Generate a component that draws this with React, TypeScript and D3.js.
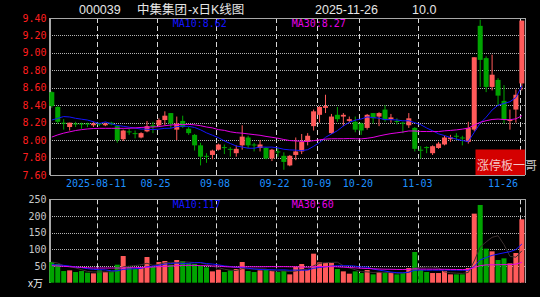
import React from "react";
import * as d3 from "d3";

// ---- data ----
const tickIndex = [8, 18, 28, 38, 45, 52, 62, 79];
const tickLabels = ["2025-08-11", "08-25", "09-08", "09-22", "10-09", "10-20", "11-03", "11-26"];

const opens = [8.55, 8.38, 8.2, 8.15, 8.19, 8.19, 8.19, 8.17, 8.19, 8.17,
  8.2, 8.16, 8.01, 8.1, 8.08, 8.03, 8.1, 8.17, 8.17, 8.23,
  8.31, 8.12, 8.22, 8.13, 8.06, 7.94, 7.82, 7.83, 7.89, 7.92,
  7.9, 7.85, 7.94, 8.03, 7.95, 7.91, 7.91, 7.79, 7.87, 7.82,
  7.71, 7.83, 7.87, 7.98, 8.16, 8.29, 8.37, 8.08, 8.29, 8.27,
  8.22, 8.21, 8.19, 8.14, 8.31, 8.27, 8.35, 8.24, 8.22, 8.2,
  8.17, 8.14, 7.89, 7.92, 7.85, 7.91, 7.95, 8.01, 8.05, 8.03,
  7.98, 8.12, 9.31, 8.94, 8.61, 8.69, 8.45, 8.22, 8.35, 8.65];
const highs = [8.56, 8.39, 8.24, 8.2, 8.21, 8.2, 8.2, 8.21, 8.2, 8.2,
  8.21, 8.17, 8.12, 8.13, 8.11, 8.09, 8.22, 8.21, 8.25, 8.33,
  8.31, 8.27, 8.28, 8.15, 8.07, 7.97, 7.85, 7.89, 7.96, 7.95,
  7.92, 7.94, 8.17, 8.05, 7.97, 8.0, 7.92, 7.9, 7.91, 7.86,
  7.83, 8.03, 8.07, 8.08, 8.35, 8.39, 8.52, 8.3, 8.38, 8.31,
  8.27, 8.27, 8.2, 8.3, 8.31, 8.32, 8.4, 8.3, 8.25, 8.21,
  8.31, 8.15, 7.93, 7.93, 7.94, 7.98, 8.05, 8.06, 8.08, 8.05,
  8.21, 8.95, 9.38, 8.96, 8.98, 8.71, 8.63, 8.35, 8.58, 9.37];
const lows = [8.37, 8.19, 8.12, 8.11, 8.15, 8.13, 8.15, 8.15, 8.16, 8.16,
  8.17, 7.97, 7.99, 8.06, 8.02, 8.02, 8.09, 8.08, 8.16, 8.17,
  8.14, 8.0, 8.14, 8.06, 7.88, 7.71, 7.74, 7.78, 7.88, 7.84,
  7.81, 7.81, 7.89, 7.91, 7.87, 7.87, 7.78, 7.76, 7.81, 7.66,
  7.7, 7.77, 7.84, 7.94, 8.11, 8.2, 8.31, 8.07, 8.21, 8.16,
  8.2, 8.09, 8.06, 8.12, 8.19, 8.16, 8.21, 8.2, 8.18, 8.08,
  8.14, 7.87, 7.79, 7.85, 7.83, 7.9, 7.94, 7.98, 8.0, 7.94,
  7.96, 8.1, 8.61, 8.55, 8.57, 8.4, 8.19, 8.12, 8.2, 8.57];
const closes = [8.39, 8.21, 8.19, 8.2, 8.18, 8.18, 8.18, 8.19, 8.18, 8.19,
  8.18, 8.0, 8.11, 8.09, 8.07, 8.08, 8.16, 8.15, 8.23, 8.28,
  8.19, 8.19, 8.15, 8.08, 7.94, 7.81, 7.81, 7.88, 7.95, 7.91,
  7.89, 7.9, 8.04, 7.94, 7.94, 7.95, 7.79, 7.89, 7.86, 7.75,
  7.82, 7.87, 7.98, 8.05, 8.33, 8.38, 8.39, 8.27, 8.24, 8.29,
  8.24, 8.12, 8.11, 8.29, 8.25, 8.31, 8.23, 8.26, 8.21, 8.19,
  8.25, 7.9, 7.88, 7.91, 7.93, 7.96, 8.03, 8.03, 8.04, 8.02,
  8.14, 8.95, 8.92, 8.61, 8.75, 8.51, 8.23, 8.23, 8.52, 9.37];
const volumes = [62, 56, 35, 37, 32, 35, 30, 28, 37, 32,
  34, 54, 80, 48, 41, 46, 77, 48, 62, 65,
  54, 68, 65, 58, 56, 51, 46, 34, 39, 32,
  37, 41, 62, 35, 32, 37, 39, 35, 32, 35,
  25, 48, 56, 38, 87, 61, 59, 59, 41, 34,
  27, 34, 29, 38, 25, 32, 29, 29, 25, 29,
  44, 92, 38, 32, 29, 29, 35, 25, 25, 25,
  44, 207, 233, 102, 94, 68, 73, 58, 89, 190];

// moving-average values before a full window exists
const ma10Early = [8.23, 8.25, 8.27, 8.265, 8.25, 8.24, 8.23, 8.21, 8.19];
const ma30Early = [8.035, 8.06, 8.08, 8.095, 8.11, 8.12, 8.128, 8.133, 8.135, 8.135,
  8.135, 8.135, 8.135, 8.136, 8.14, 8.145, 8.148, 8.15, 8.155, 8.165,
  8.173, 8.178, 8.18, 8.18, 8.175, 8.165, 8.15, 8.14, 8.12];
const volMa10Early = [54, 53, 52, 50, 47, 45, 42, 40, 39];
const volMa30Early = [51, 50, 49, 48, 47, 46, 45, 44, 44, 44,
  44, 44, 44, 45, 45, 46, 46, 47, 48, 49,
  50, 51, 52, 52, 52, 51, 51, 50, 50];

const priceTicks = [9.4, 9.2, 9.0, 8.8, 8.6, 8.4, 8.2, 8.0, 7.8, 7.6];
const volTicks = [250, 200, 150, 100, 50];
const titleParts = ["000039", "中集集团", "-x日K线图", "2025-11-26", "10.0"];
const priceMaLabels = ["MA10:8.62", "MA30:8.27"];
const volMaLabels = ["MA10:117", "MA30:60"];
const badgeText = "涨停板一哥";
const volUnit = "x万";

function movingAvg(vals: number[], n: number, early: number[] | null): number[] {
  return vals.map((_, i) => {
    if (i < n - 1) {
      if (early) return early[i];
      const s = vals.slice(0, i + 1);
      return d3.mean(s) as number;
    }
    return d3.mean(vals.slice(i - n + 1, i + 1)) as number;
  });
}

const RED = "#ff5a5a";
const GREEN = "#00a400";
const BLUE = "#1414ff";
const MAG = "#e600e6";
const MONO = "'DejaVu Sans Mono', 'Liberation Mono', monospace";
const SANS = "'Liberation Sans', 'Noto Sans CJK SC', sans-serif";

export default function App() {
  const n = closes.length;
  const idx = d3.range(n);
  const L = 50, R = 525;
  const pTop = 18, pBot = 175;
  const vTop = 199.3, vBot = 282.7;

  const x = d3.scaleBand<number>().domain(idx).range([49.5, 49.5 + n * 5.95]).padding(0);
  const cx = (i: number) => (x(i) as number) + 2.3;
  const yP = d3.scaleLinear().domain([7.6, 9.4]).range([pBot, pTop]);
  const yV = d3.scaleLinear().domain([0, 250]).range([vBot, vTop]);

  const ma10 = movingAvg(closes, 10, ma10Early);
  const ma30 = movingAvg(closes, 30, ma30Early);
  const vma5 = movingAvg(volumes, 5, null);
  const vma10 = movingAvg(volumes, 10, volMa10Early);
  const vma30 = movingAvg(volumes, 30, volMa30Early);

  const lineP = d3.line<number>().x((_, i) => cx(i)).y((d) => yP(d));
  const lineV = d3.line<number>().x((_, i) => cx(i)).y((d) => yV(d));

  const up = (i: number) => closes[i] >= opens[i];
  const bw = 5;

  return (
    <div style={{ position: "fixed", left: 0, top: 0, width: 540, height: 297, background: "#000" }}>
      <svg width={540} height={297} style={{ display: "block" }}>
        <rect x={0} y={0} width={540} height={297} fill="#000" />
        {/* title */}
        <g fontFamily={SANS} fontSize={12.5} fill="#e6e6e6">
          <text x={79} y={13.5}>{titleParts[0]}</text>
          <text x={137} y={13.5}>{titleParts[1]}</text>
          <text x={188} y={13.5}>{titleParts[2]}</text>
          <text x={315} y={13.5}>{titleParts[3]}</text>
          <text x={412} y={13.5}>{titleParts[4]}</text>
        </g>

        {/* price grid */}
        {priceTicks.slice(1, -1).map((t) => (
          <line key={"pg" + t} x1={L} x2={R} y1={Math.round(yP(t)) + 0.5} y2={Math.round(yP(t)) + 0.5}
            stroke="#b4b4b4" strokeDasharray="1 1" strokeWidth={1} />
        ))}
        {volTicks.slice(1).map((t) => (
          <line key={"vg" + t} x1={L} x2={R} y1={Math.round(yV(t)) + 0.5} y2={Math.round(yV(t)) + 0.5}
            stroke="#b4b4b4" strokeDasharray="1 1" strokeWidth={1} />
        ))}
        {/* vertical dashed date lines */}
        {tickIndex.map((ti) => (
          <g key={"vl" + ti}>
            <line x1={Math.round(x(ti) as number) + 0.5} x2={Math.round(x(ti) as number) + 0.5} y1={pTop} y2={pBot}
              stroke="#d8d8d8" strokeDasharray="5 3" />
            <line x1={Math.round(x(ti) as number) + 0.5} x2={Math.round(x(ti) as number) + 0.5} y1={vTop} y2={vBot}
              stroke="#d8d8d8" strokeDasharray="5 3" />
          </g>
        ))}

        {/* frames */}
        <g stroke="#a8a8a8" strokeWidth={1} shapeRendering="crispEdges">
          <line x1={L} x2={R} y1={pTop} y2={pTop} />
          <line x1={R} x2={R} y1={pTop} y2={pBot} />
          <line x1={L} x2={R} y1={pBot} y2={pBot} />
          <line x1={L} x2={L} y1={pTop} y2={pBot} strokeWidth={1.5} />
          <line x1={L} x2={R} y1={vTop} y2={vTop} />
          <line x1={R} x2={R} y1={vTop} y2={vBot} />
          <line x1={L} x2={L} y1={vTop} y2={vBot} strokeWidth={1.5} />
        </g>

        {/* candles */}
        {idx.map((i) => {
          const c = up(i) ? RED : GREEN;
          const top = yP(Math.max(opens[i], closes[i]));
          const bot = yP(Math.min(opens[i], closes[i]));
          return (
            <g key={"c" + i}>
              <line x1={cx(i)} x2={cx(i)} y1={yP(highs[i])} y2={yP(lows[i])} stroke={c} strokeWidth={1} />
              <rect x={cx(i) - bw / 2} y={top} width={bw} height={Math.max(1, bot - top)} fill={c} />
            </g>
          );
        })}
        <path d={lineP(ma10) as string} fill="none" stroke={BLUE} strokeWidth={1} />
        <path d={lineP(ma30) as string} fill="none" stroke={MAG} strokeWidth={1} />

        {/* volume bars */}
        {idx.map((i) => (
          <rect key={"v" + i} x={cx(i) - bw / 2} y={yV(volumes[i])} width={bw} height={yV(0) - yV(volumes[i])}
            fill={up(i) ? RED : GREEN} />
        ))}
        <path d={lineV(vma5) as string} fill="none" stroke="#3c3030" strokeWidth={1} />
        <path d={lineV(vma10) as string} fill="none" stroke={BLUE} strokeWidth={1} />
        <path d={lineV(vma30) as string} fill="none" stroke={MAG} strokeWidth={1} />

        {/* axis labels */}
        <g fontFamily={MONO} fontSize={10} fill="#ff1e1e" textAnchor="end">
          {priceTicks.map((t) => (
            <text key={"pl" + t} x={46.5} y={yP(t) + 3.6}>{t.toFixed(2)}</text>
          ))}
        </g>
        <g fontFamily={MONO} fontSize={10} fill="#c8c8c8" textAnchor="end">
          {volTicks.map((t) => (
            <text key={"vlb" + t} x={46.5} y={yV(t) + 3.6}>{t}</text>
          ))}
        </g>
        <text x={28} y={287} fontFamily={SANS} fontSize={10} fill="#eeeeee">{volUnit}</text>
        <g fontFamily={MONO} fontSize={10} fill="#1e90ff">
          {tickIndex.map((ti, k) => {
            const last = k === tickIndex.length - 1;
            return (
              <text key={"xl" + ti} x={last ? 518 : (x(ti) as number) - 1} y={187}
                textAnchor={last ? "end" : "middle"}>{tickLabels[k]}</text>
            );
          })}
        </g>

        {/* MA labels */}
        <g fontFamily={MONO} fontSize={10}>
          <text x={172.7} y={27} fill={BLUE}>{priceMaLabels[0]}</text>
          <text x={291.7} y={27} fill={MAG}>{priceMaLabels[1]}</text>
          <text x={172.7} y={208} fill={BLUE}>{volMaLabels[0]}</text>
          <text x={291.7} y={208} fill={MAG}>{volMaLabels[1]}</text>
        </g>

        {/* badge */}
        <rect x={475.5} y={149.5} width={49.5} height={25.5} fill="#d40000" />
        <text x={477} y={170} fontFamily="'Noto Sans CJK SC', sans-serif" fontSize={12} fill="#ffffff" fillOpacity={0.78}>
          {badgeText}
        </text>
      </svg>
    </div>
  );
}
